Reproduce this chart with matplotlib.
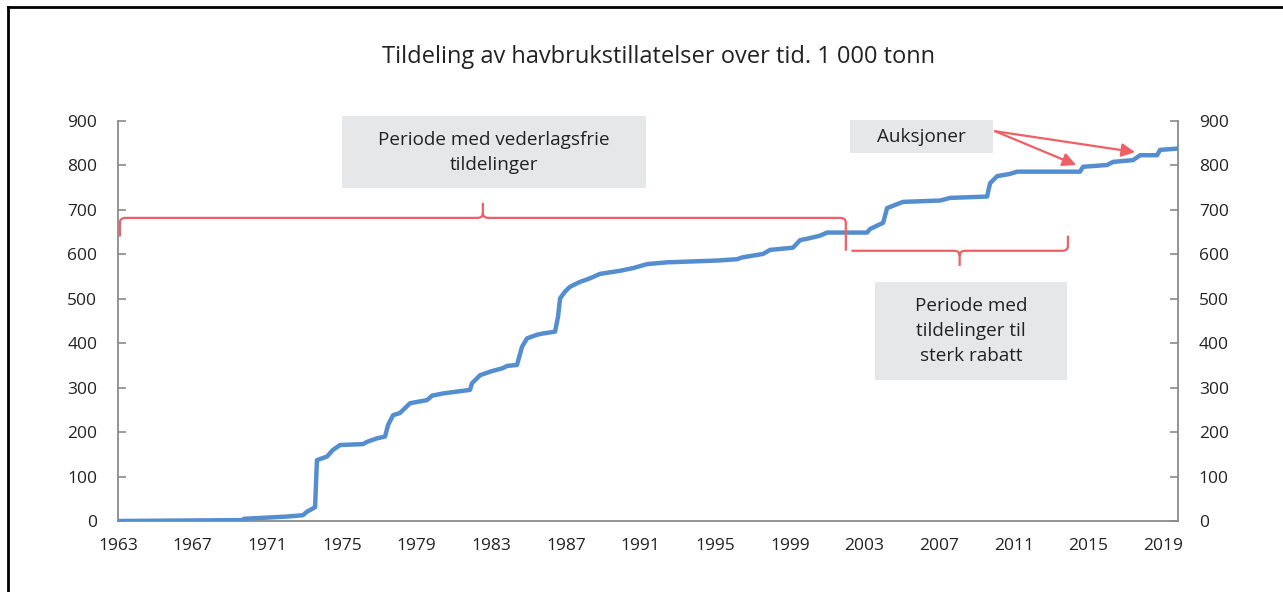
import matplotlib.pyplot as plt
from matplotlib.path import Path
from matplotlib.patches import PathPatch, Rectangle
from matplotlib.lines import Line2D

plt.rcParams['font.family'] = ['Open Sans', 'DejaVu Sans']

# cumulative allocated capacity, 1 000 tonn
years = [1963.0, 1969.70, 1969.75, 1972.06, 1972.91, 1973.13, 1973.56, 1973.66,
         1974.20, 1974.52, 1974.90, 1976.13, 1976.34, 1976.88, 1977.31, 1977.47,
         1977.74, 1978.11, 1978.65, 1979.56, 1979.83, 1980.42, 1981.86, 1981.97,
         1982.40, 1982.94, 1983.63, 1983.85, 1984.38, 1984.65, 1984.92, 1985.45,
         1985.78, 1986.42, 1986.58, 1986.69, 1986.95, 1987.22, 1987.76, 1988.29,
         1988.83, 1989.90, 1990.60, 1991.35, 1992.42, 1995.10, 1996.17, 1996.44,
         1997.57, 1997.94, 1999.17, 1999.55, 1999.92, 2000.62, 2001.00, 2003.14,
         2003.30, 2004.00, 2004.21, 2004.75, 2005.07, 2007.05, 2007.59, 2009.57,
         2009.73, 2010.11, 2010.80, 2011.18, 2014.55, 2014.71, 2016.00, 2016.32,
         2017.39, 2017.77, 2018.68, 2018.84, 2019.81]
tonn = [0, 2, 5, 10, 13, 21, 31, 137,
        145, 160, 171, 173, 178, 186, 190, 216,
        238, 243, 265, 272, 282, 287, 295, 310,
        328, 336, 344, 349, 351, 392, 411, 419,
        422, 426, 460, 501, 516, 527, 538, 546,
        556, 563, 569, 578, 582, 586, 589, 593,
        601, 610, 615, 632, 635, 642, 649, 649,
        657, 671, 704, 713, 718, 721, 727, 730,
        760, 776, 781, 786, 786, 797, 801, 808,
        812, 823, 823, 835, 838]

xticks = list(range(1963, 2020, 4))
yticks = list(range(0, 1000, 100))

# periods marked with braces
free_period = (1963.1, 2002.0)
discount_period = (2002.3, 2013.9)
auction_targets = [(2014.34, 801), (2017.5, 830)]

blue = '#558ed0'
red = '#ee5f66'
boxgrey = '#e6e7e9'
axgrey = '#8a8a8a'

fig = plt.figure(figsize=(12.83, 5.92), dpi=100)
ax = fig.add_axes([118 / 1283, 1 - 521 / 592, (1178 - 118) / 1283, 400 / 592])

ax.plot(years, tonn, color=blue, lw=3.2, solid_capstyle='round', zorder=3)

ax.set_xlim(1963, 2019.8)
ax.set_ylim(0, 900)
ax.set_xticks(xticks)
ax.set_yticks(yticks)
ax.tick_params(axis='x', length=0, pad=12, labelsize=12.5, colors='#222222')
ax.tick_params(axis='y', direction='in', length=6, width=1.2, color=axgrey,
               left=True, right=True, labelleft=True, labelright=True,
               pad=15, labelsize=12.5, labelcolor='#222222')
for s in ['left', 'right', 'bottom']:
    ax.spines[s].set_color(axgrey)
    ax.spines[s].set_linewidth(1.3)
ax.spines['top'].set_visible(False)


def brace(x0, x1, y, dl, dr, dtip, rx=0.3, ry=11):
    xm = (x0 + x1) / 2
    sl = 1 if dl > 0 else -1
    sr = 1 if dr > 0 else -1
    st = 1 if dtip > 0 else -1
    verts, codes = [], []
    if dl != 0:
        verts += [(x0, y + dl), (x0, y + sl * ry), (x0, y), (x0 + rx, y)]
        codes += [Path.MOVETO, Path.LINETO, Path.CURVE3, Path.CURVE3]
    else:
        verts += [(x0, y)]
        codes += [Path.MOVETO]
    verts += [(xm - rx, y), (xm, y), (xm, y + st * ry), (xm, y + dtip),
              (xm, y + st * ry), (xm, y), (xm + rx, y), (x1 - rx, y),
              (x1, y), (x1, y + sr * ry), (x1, y + dr)]
    codes += [Path.LINETO, Path.CURVE3, Path.CURVE3, Path.LINETO,
              Path.MOVETO, Path.CURVE3, Path.CURVE3, Path.LINETO,
              Path.CURVE3, Path.CURVE3, Path.LINETO]
    ax.add_patch(PathPatch(Path(verts, codes), fill=False, edgecolor=red,
                           lw=1.6, clip_on=False, zorder=4))


brace(free_period[0], free_period[1], 682, -42, -74, 34)
brace(discount_period[0], discount_period[1], 608, 0, 34, -34)


def box(x0, x1, y0, y1, text):
    ax.add_patch(Rectangle((x0, y0), x1 - x0, y1 - y0, facecolor=boxgrey,
                           edgecolor='none', clip_on=False, zorder=2))
    ax.text((x0 + x1) / 2, (y0 + y1) / 2, text, ha='center', va='center',
            fontsize=13.6, color='#222222', linespacing=1.5, zorder=5)


box(1975.0, 1991.3, 749, 911, 'Periode med vederlagsfrie\ntildelinger')
box(2003.57, 2013.86, 317, 538, 'Periode med\ntildelinger til\nsterk rabatt')
box(2002.23, 2009.89, 828, 902, 'Auksjoner')

for tx, ty in auction_targets:
    ax.annotate('', xy=(tx, ty), xytext=(2010.0, 877),
                arrowprops=dict(arrowstyle='-|>', color=red, lw=1.6,
                                mutation_scale=20, shrinkA=0, shrinkB=0),
                zorder=5)

fig.text(659 / 1283, 1 - 57 / 592,
         'Tildeling av havbrukstillatelser over tid. 1 000 tonn',
         ha='center', va='center', fontsize=17, color='#222222')

# outer frame (left and top only)
fig.add_artist(Line2D([8 / 1283, 8 / 1283], [0, 1 - 7 / 592], color='black', lw=2))
fig.add_artist(Line2D([8 / 1283, 1], [1 - 7 / 592, 1 - 7 / 592], color='black', lw=2))

fig.savefig('out.png', dpi=100)
